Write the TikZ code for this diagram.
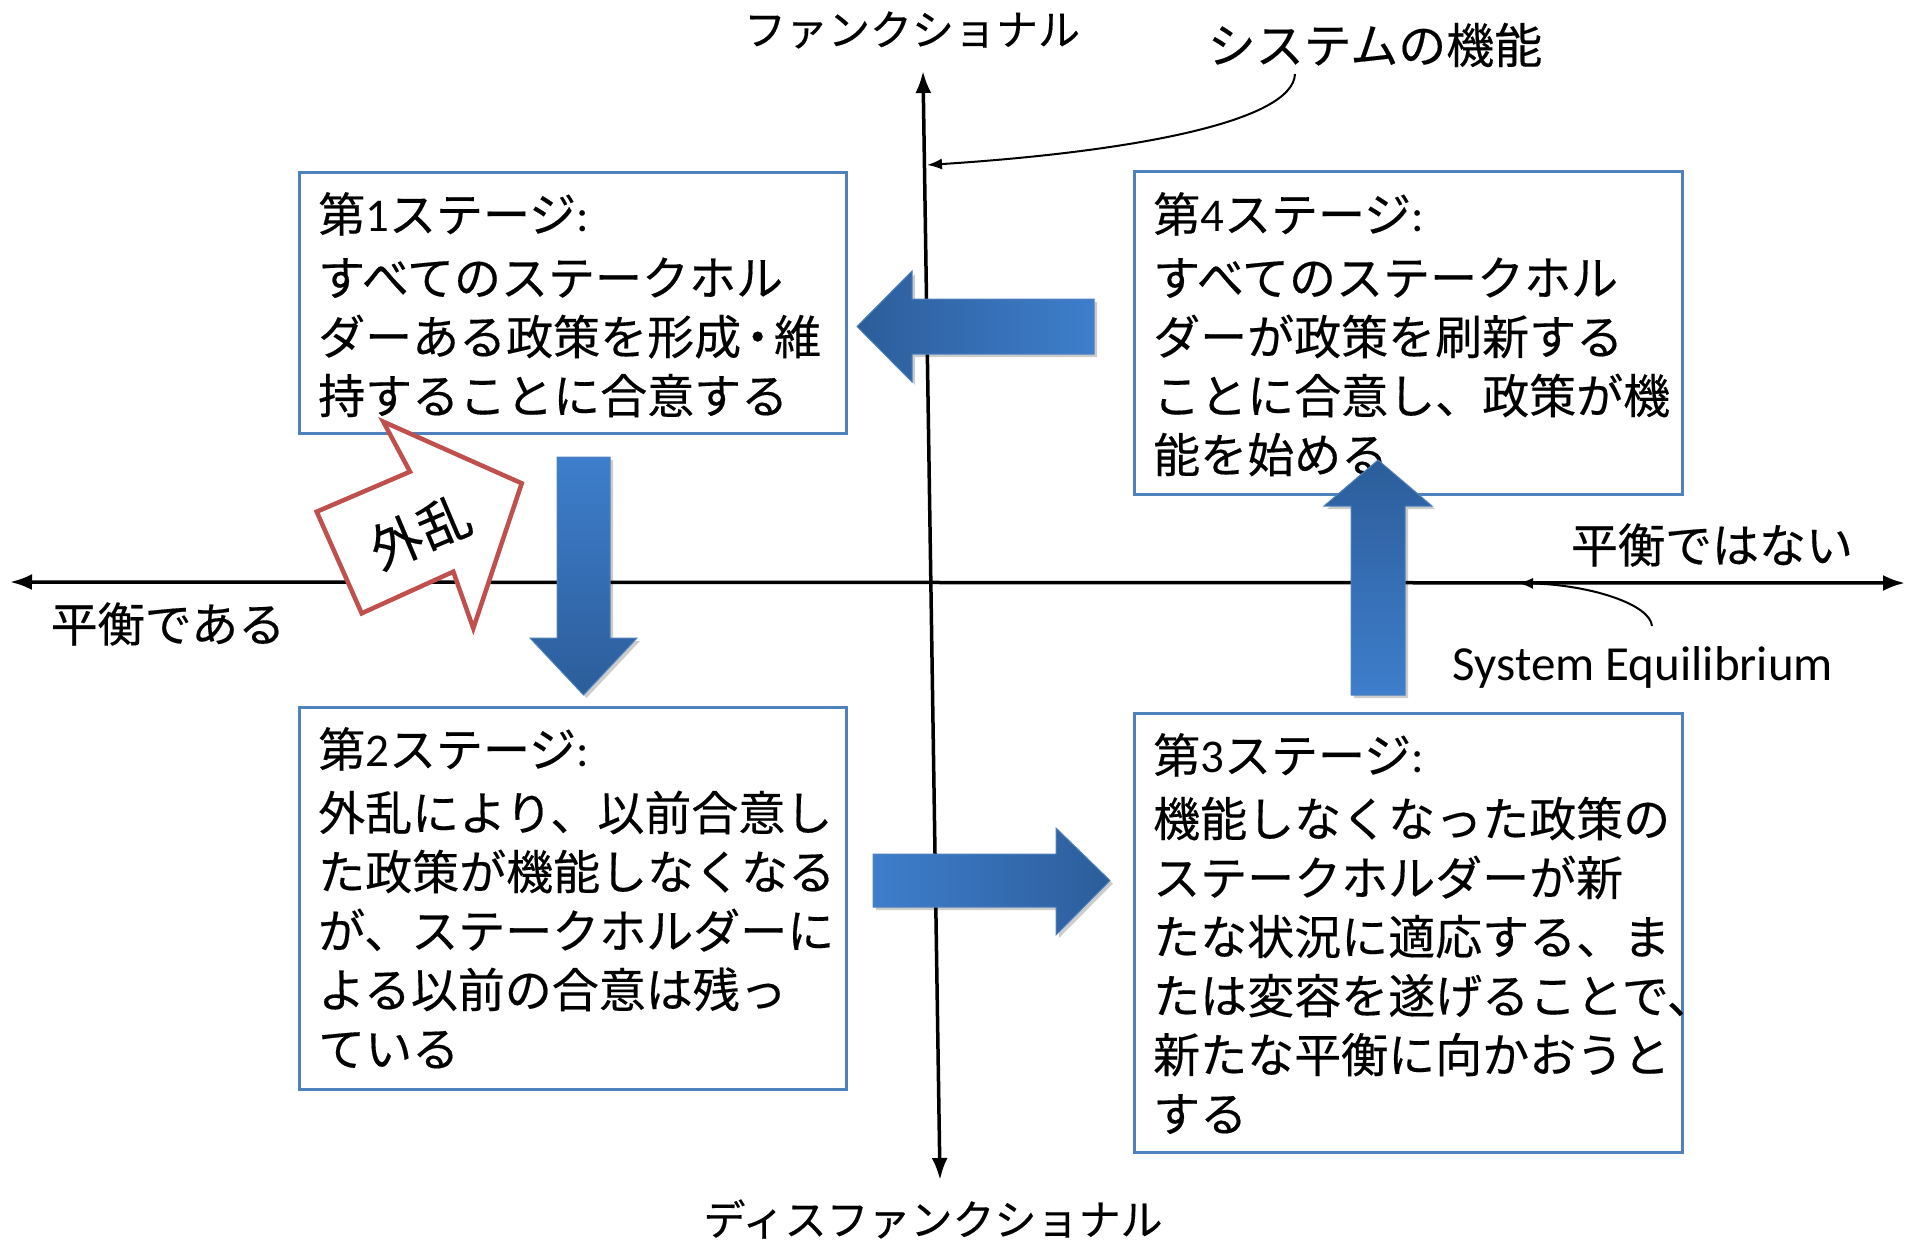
\documentclass[tikz,border=0pt]{standalone}
\usepackage{fontspec}
\setmainfont{Noto Sans CJK JP}[FakeBold=0.35]
\newfontfamily\latinfont{Carlito}
\usetikzlibrary{arrows.meta,shadows}
\definecolor{boxblue}{HTML}{4F81BD}
\definecolor{arrlight}{RGB}{62,126,204}
\definecolor{arrdark}{RGB}{44,93,154}
\definecolor{redline}{HTML}{C0504D}
\begin{document}
\begin{tikzpicture}[x=1pt,y=-1pt,
  stagebox/.style={draw=boxblue, line width=3pt, fill=white, inner sep=0pt, outer sep=0pt},
  stagetext/.style={anchor=north west, align=left, inner sep=0pt, font=\fontsize{47}{59}\selectfont},
  axisline/.style={line width=3.5pt, {Latex[length=22pt,width=16pt]}-{Latex[length=22pt,width=16pt]}},
  lbl/.style={inner sep=0pt, font=\fontsize{47}{56}\selectfont},
  smalllbl/.style={inner sep=0pt, font=\fontsize{42}{50}\selectfont},
  pointer/.style={line width=2pt, -{Latex[length=15pt,width=11pt]}},
  blockarrow/.style={draw=boxblue, line width=1pt, line join=miter,
     drop shadow={shadow xshift=3pt, shadow yshift=-3pt, opacity=0.2, fill=black}},
  disturb/.style={draw=redline, line width=4.5pt, fill=white, line join=miter}
]
\useasboundingbox (0,0) rectangle (1912,1240);

% axes
\coordinate (vtop) at (923,71);
\coordinate (vbot) at (940,1180);
\coordinate (hleft) at (10,582);
\coordinate (hright) at (1905,583);
\draw[axisline] (vtop) -- (vbot);
\draw[axisline] (hleft) -- (hright);

% axis labels
\node[smalllbl] (fn) at (912,30) {ファンクショナル};
\node[smalllbl] (dysfn) at (933,1219) {ディスファンクショナル};
\node[lbl] (eq) at (168,624) {平衡である};
\node[lbl] (noneq) at (1712,545) {平衡ではない};
\node[inner sep=0pt, font=\fontsize{48}{56}\selectfont] (sysfn) at (1375,45) {システムの機能};
\node[inner sep=0pt, font=\latinfont\fontsize{49}{56}\selectfont] (syseq) at (1643,667) {System Equilibrium};

% pointers
\coordinate (sysstart) at (1295,74);
\coordinate (sysend) at (927,165);
\draw[pointer] (sysstart) .. controls (1293,122) and (1130,152) .. (sysend);
\coordinate (eqstart) at (1652,626);
\coordinate (eqend) at (1518,583);
\draw[pointer] (eqstart) .. controls (1650,604) and (1590,585) .. (eqend);

% stage boxes
\node[stagebox, minimum width=547pt, minimum height=261pt] (box1) at (572.5,302.5) {};
\node[stagebox, minimum width=547pt, minimum height=382pt] (box2) at (572.5,898) {};
\node[stagebox, minimum width=548pt, minimum height=323pt] (box4) at (1408,332.5) {};
\node[stagebox, minimum width=548pt, minimum height=439pt] (box3) at (1408,932.5) {};

\node[stagetext] (t1) at (318,192) {第{\latinfont 1}ステージ{\latinfont :}\\[4.5pt]
すべてのステークホル\\
ダーある政策を形成{\kern-0.15em・\kern-0.15em}維\\
持することに合意する};
\node[stagetext] (t2) at (318,727) {第{\latinfont 2}ステージ{\latinfont :}\\[4.5pt]
外乱により、以前合意し\\
た政策が機能しなくなる\\
が、ステークホルダーに\\
よる以前の合意は残っ\\
ている};
\node[stagetext] (t3) at (1153,733) {第{\latinfont 3}ステージ{\latinfont :}\\[4.5pt]
機能しなくなった政策の\\
ステークホルダーが新\\
たな状況に適応する、ま\\
たは変容を遂げることで、\\
新たな平衡に向かおうと\\
する};
\node[stagetext] (t4) at (1153,192) {第{\latinfont 4}ステージ{\latinfont :}\\[4.5pt]
すべてのステークホル\\
ダーが政策を刷新する\\
ことに合意し、政策が機\\
能を始める};

% block arrows
\path[blockarrow, left color=arrdark, right color=arrlight]
  (1094,299) -- (912,299) -- (912,271) -- (857,326.5) -- (912,382) -- (912,354) -- (1094,354) -- cycle;
\path[blockarrow, top color=arrlight, bottom color=arrdark]
  (557,457) -- (557,638) -- (530,638) -- (583.5,695) -- (637,638) -- (610,638) -- (610,457) -- cycle;
\path[blockarrow, left color=arrlight, right color=arrdark]
  (873,854) -- (1056,854) -- (1056,828) -- (1110,880.5) -- (1056,935) -- (1056,907) -- (873,907) -- cycle;
\path[blockarrow, bottom color=arrlight, top color=arrdark]
  (1351,695) -- (1351,506) -- (1324,506) -- (1378,460) -- (1432,506) -- (1405,506) -- (1405,695) -- cycle;

% disturbance arrow
\draw[disturb] (316.7,511.7) -- (410,471.7) -- (383.3,421.7) -- (521.7,483.3)
  -- (473.3,628.3) -- (453.3,571.7) -- (361.7,613.3) -- cycle;
\node[inner sep=0pt, rotate=23, font=\fontsize{52}{56}\selectfont] (gairan) at (420,532) {外乱};
\end{tikzpicture}
\end{document}
